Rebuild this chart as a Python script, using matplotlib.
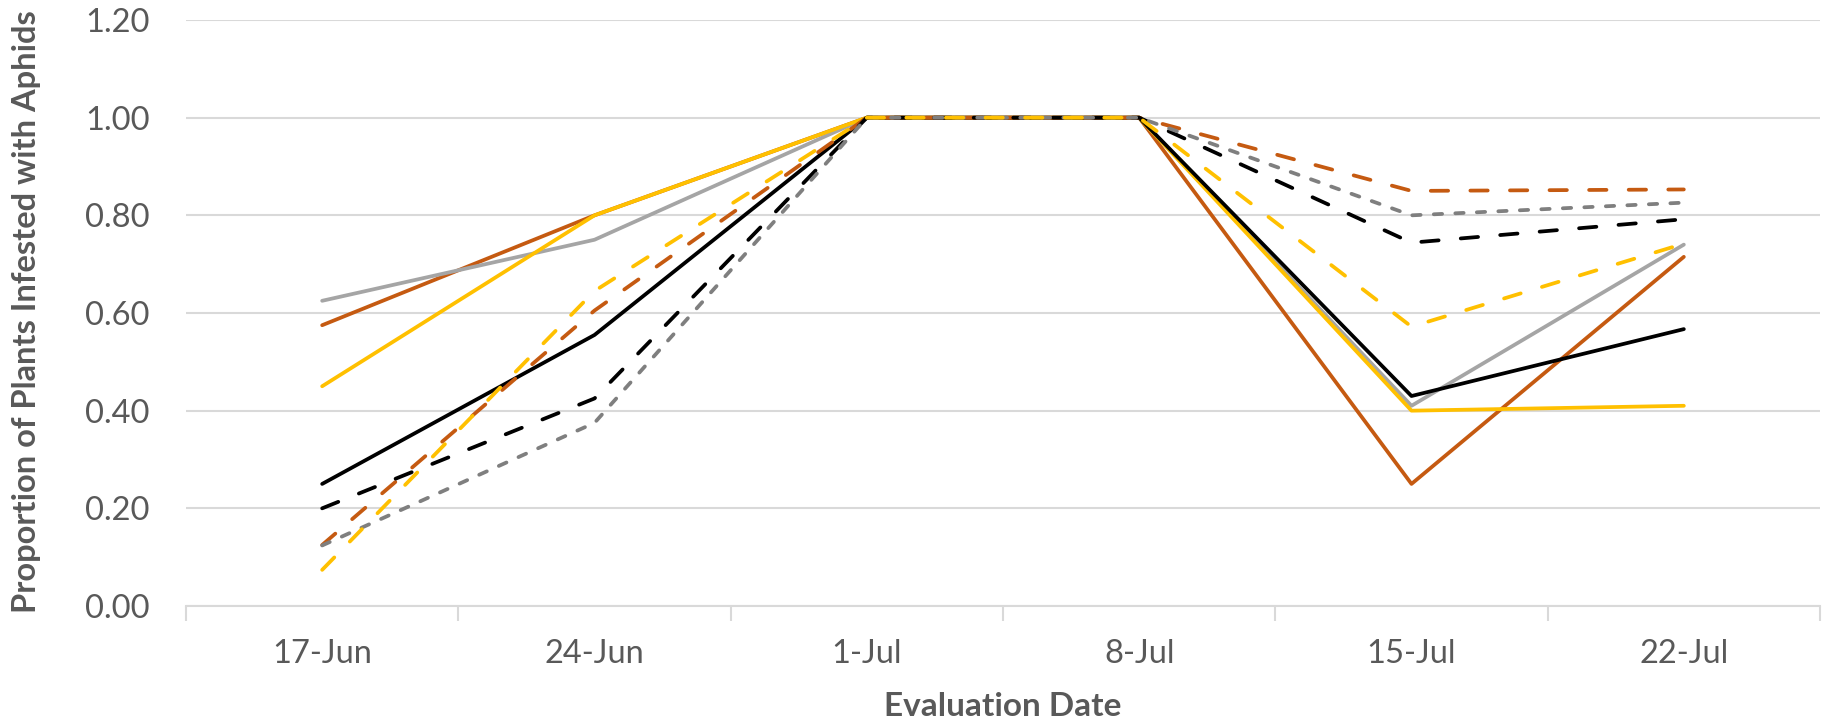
import matplotlib
matplotlib.use("Agg")
import matplotlib.pyplot as plt
import numpy as np

# weekly aphid counts, proportion of plants infested
dates = ["17-Jun", "24-Jun", "1-Jul", "8-Jul", "15-Jul", "22-Jul"]

solid_orange = [0.575, 0.80, 1.00, 1.00, 0.25, 0.715]
solid_gray = [0.625, 0.75, 1.00, 1.00, 0.41, 0.74]
solid_yellow = [0.45, 0.80, 1.00, 1.00, 0.40, 0.41]
solid_black = [0.25, 0.555, 1.00, 1.00, 0.43, 0.567]
dash_orange = [0.125, 0.605, 1.00, 1.00, 0.85, 0.853]
dash_black = [0.20, 0.425, 1.00, 1.00, 0.744, 0.792]
dash_gray = [0.124, 0.375, 1.00, 1.00, 0.80, 0.826]
dash_yellow = [0.074, 0.645, 1.00, 1.00, 0.572, 0.742]

TXT = "#595959"
GRID = "#D9D9D9"
FONT = "Lato"

plt.rcParams["lines.scale_dashes"] = False

fig = plt.figure(figsize=(18.25, 7.27), dpi=100)
ax = fig.add_axes([186 / 1825, 1 - 606 / 727, (1820 - 186) / 1825, (606 - 20) / 727])

x = np.arange(len(dates))
lw = 2.7
long_dash = (0, (12.5, 16))
short_dash = (0, (6, 9.5))

series = [
    (solid_orange, "#C55A11", "-"),
    (solid_gray, "#A5A5A5", "-"),
    (solid_yellow, "#FFC000", "-"),
    (solid_black, "#000000", "-"),
    (dash_orange, "#C55A11", long_dash),
    (dash_black, "#000000", long_dash),
    (dash_gray, "#7F7F7F", short_dash),
    (dash_yellow, "#FFC000", long_dash),
]
for vals, col, ls in series:
    ax.plot(x, vals, color=col, lw=lw, linestyle=ls,
            solid_capstyle="round", dash_capstyle="round",
            solid_joinstyle="round", dash_joinstyle="round")

ax.set_xlim(-0.5, len(dates) - 0.5)
ax.set_ylim(0, 1.2)
ax.set_yticks(np.arange(0, 1.21, 0.2))
ax.set_yticklabels([f"{v:.2f}" for v in np.arange(0, 1.21, 0.2)])
ax.yaxis.grid(True, color=GRID, lw=1.5)
ax.set_axisbelow(True)

# category boundaries get tick marks, labels sit between them
ax.set_xticks(np.arange(-0.5, len(dates)), labels=[""] * (len(dates) + 1))
ax.set_xticks(x, labels=dates, minor=True)
ax.tick_params(axis="x", which="major", length=11, width=1.5, color=GRID)
ax.tick_params(axis="x", which="minor", length=0, pad=24, labelsize=23.5, labelcolor=TXT)
ax.tick_params(axis="y", length=0, pad=26, labelsize=23.5, labelcolor=TXT)
for lab in ax.get_xticklabels(minor=True) + ax.get_yticklabels():
    lab.set_fontfamily(FONT)

for s in ["top", "right", "left"]:
    ax.spines[s].set_visible(False)
ax.spines["bottom"].set_color(GRID)
ax.spines["bottom"].set_linewidth(1.5)

fig.text(1003 / 1825, 1 - 707 / 727, "Evaluation Date", ha="center", va="center",
         fontsize=24, fontweight="bold", color=TXT, family=FONT)
fig.text(27 / 1825, 1 - 312 / 727, "Proportion of Plants Infested with Aphids",
         ha="center", va="center", rotation=90,
         fontsize=23.5, fontweight="bold", color=TXT, family=FONT)

fig.savefig("out.png", dpi=100)
